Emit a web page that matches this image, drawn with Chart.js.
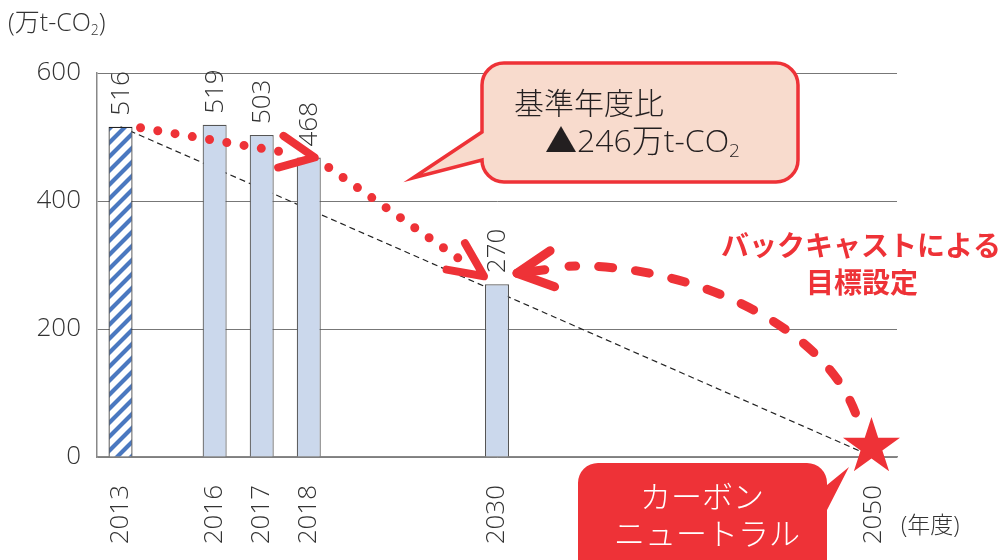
<!DOCTYPE html>
<html lang="ja">
<head>
<meta charset="utf-8">
<title>CO2排出量の推移</title>
<script src="https://cdn.jsdelivr.net/npm/chart.js@4.4.1/dist/chart.umd.min.js"></script>
<style>
  html, body { margin: 0; padding: 0; background: #fff; }
</style>
</head>
<body>
<canvas id="chart1" width="1003" height="560"></canvas>
<script>
// 年度 (空欄は間隔調整用)
const categories = ["2013", "", "2016", "2017", "2018", "", "", "", "2030", "", "", "", "", "", "", "", "2050"];
// 排出量 (万t-CO2)
const emissions = [516, null, 519, 503, 468, null, null, null, 270, null, null, null, null, null, null, null, null];
const target2050 = 0; // カーボンニュートラル
const yTicks = [0, 200, 400, 600];

const RED = "#ee3237";
const FONT = '"Open Sans", "Noto Sans CJK JP", sans-serif';
const JFONT = '"Noto Sans CJK JP", "Noto Sans", sans-serif';

var ctx1 = document.getElementById("chart1").getContext("2d");

// 2013年度の斜線パターン
function makeStripe() {
  const c = document.createElement("canvas");
  c.width = 14;
  c.height = 14;
  const g = c.getContext("2d");
  g.fillStyle = "#ffffff";
  g.fillRect(0, 0, 14, 14);
  g.strokeStyle = "#4a78c0";
  g.lineWidth = 4.2;
  g.beginPath();
  g.moveTo(-3, 17); g.lineTo(17, -3);
  g.moveTo(-3, 3); g.lineTo(3, -3);
  g.moveTo(11, 17); g.lineTo(17, 11);
  g.stroke();
  return ctx1.createPattern(c, "repeat");
}
const stripe = makeStripe();

// 2013年度から2050年度ゼロへの直線
const straightPath = categories.map((c, i) =>
  i === 0 ? emissions[0] : i === categories.length - 1 ? target2050 : null
);

function chevron(ctx, x, y, a, len, spread, w) {
  ctx.lineWidth = w;
  ctx.lineCap = "round";
  ctx.lineJoin = "round";
  ctx.beginPath();
  ctx.moveTo(x - len * Math.cos(a - spread), y - len * Math.sin(a - spread));
  ctx.lineTo(x, y);
  ctx.lineTo(x - len * Math.cos(a + spread), y - len * Math.sin(a + spread));
  ctx.stroke();
}

function dottedArrow(ctx, x1, y1, x2, y2) {
  const a = Math.atan2(y2 - y1, x2 - x1);
  const stop = Math.hypot(x2 - x1, y2 - y1) - 30;
  ctx.save();
  ctx.strokeStyle = RED;
  ctx.lineWidth = 9;
  ctx.lineCap = "round";
  ctx.setLineDash([0, 17.5]);
  ctx.beginPath();
  ctx.moveTo(x1, y1);
  ctx.lineTo(x1 + Math.cos(a) * stop, y1 + Math.sin(a) * stop);
  ctx.stroke();
  ctx.setLineDash([]);
  chevron(ctx, x2, y2, a, 38, (25 * Math.PI) / 180, 8);
  ctx.restore();
}

// 下付き文字つきのテキスト
function co2Text(ctx, parts, x, y, size) {
  let cx = x;
  parts.forEach((p) => {
    const s = p.sub ? Math.round(size * 0.58) : size;
    ctx.font = "300 " + s + "px " + FONT;
    ctx.fillText(p.t, cx, p.sub ? y + size * 0.28 : y);
    cx += ctx.measureText(p.t).width;
  });
}

function star(ctx, cx, cy, r) {
  ctx.beginPath();
  for (let i = 0; i < 10; i++) {
    const rr = i % 2 === 0 ? r : r * 0.382;
    const a = -Math.PI / 2 + (i * Math.PI) / 5;
    ctx.lineTo(cx + rr * Math.cos(a), cy + rr * Math.sin(a));
  }
  ctx.closePath();
  ctx.fill();
}

const annotations = {
  id: "annotations",
  afterDatasetsDraw(chart) {
    // 棒の上の数値
    const ctx = chart.ctx;
    const meta = chart.getDatasetMeta(0);
    ctx.save();
    ctx.fillStyle = "#333";
    ctx.font = "300 26px " + FONT;
    ctx.textAlign = "left";
    ctx.textBaseline = "middle";
    meta.data.forEach((bar, i) => {
      if (emissions[i] == null) return;
      ctx.save();
      ctx.translate(bar.x + 1, bar.y - 11);
      ctx.rotate(-Math.PI / 2);
      ctx.fillText(String(emissions[i]), 0, 0);
      ctx.restore();
    });
    ctx.restore();
  },
  afterDraw(chart) {
    const ctx = chart.ctx;
    const xs = chart.scales.x;
    const ys = chart.scales.y;
    const pt = (i, v) => ({ x: xs.getPixelForValue(i), y: ys.getPixelForValue(v) });
    const p2013 = pt(0, emissions[0]);
    const p2018 = pt(4, emissions[4]);
    const p2030 = pt(8, emissions[8]);
    const p2050 = pt(16, target2050);

    // 赤い点線の矢印
    dottedArrow(ctx, p2013.x + 20, p2013.y + 1, p2018.x + 6, p2018.y);
    dottedArrow(ctx, p2018.x + 20, p2018.y + 10, p2030.x - 13, p2030.y - 8);

    // バックキャストの矢印
    const s = { x: p2050.x - 2, y: p2050.y - 10 };
    const tip = { x: p2030.x + 20, y: p2030.y - 11 };
    ctx.save();
    ctx.strokeStyle = RED;
    ctx.fillStyle = RED;
    ctx.lineWidth = 9;
    ctx.lineCap = "round";
    ctx.setLineDash([14, 23]);
    ctx.beginPath();
    ctx.moveTo(s.x - 16, s.y - 34);
    ctx.bezierCurveTo(s.x - 51, s.y - 127, tip.x + 162, tip.y - 11, tip.x + 52, tip.y - 7);
    ctx.stroke();
    ctx.setLineDash([]);
    const a = Math.atan2(5, -40);
    chevron(ctx, tip.x, tip.y, a, 40, (27 * Math.PI) / 180, 9);
    ctx.beginPath();
    ctx.moveTo(tip.x, tip.y);
    ctx.lineTo(tip.x - 28 * Math.cos(a), tip.y - 28 * Math.sin(a));
    ctx.stroke();

    // 星
    star(ctx, s.x, s.y, 30);
    ctx.restore();

    // 吹き出し (基準年度比)
    ctx.save();
    const bx = 482, by = 63, bw = 316, bh = 119, r = 22;
    ctx.beginPath();
    ctx.moveTo(bx + r, by);
    ctx.lineTo(bx + bw - r, by);
    ctx.arcTo(bx + bw, by, bx + bw, by + r, r);
    ctx.lineTo(bx + bw, by + bh - r);
    ctx.arcTo(bx + bw, by + bh, bx + bw - r, by + bh, r);
    ctx.lineTo(bx + r, by + bh);
    ctx.arcTo(bx, by + bh, bx, by + bh - r, r);
    ctx.lineTo(413, 178);
    ctx.lineTo(bx, 132);
    ctx.lineTo(bx, by + r);
    ctx.arcTo(bx, by, bx + r, by, r);
    ctx.closePath();
    ctx.fillStyle = "#f8dbcd";
    ctx.fill();
    ctx.strokeStyle = RED;
    ctx.lineWidth = 3.5;
    ctx.lineJoin = "miter";
    ctx.stroke();
    ctx.fillStyle = "#231f20";
    ctx.textBaseline = "middle";
    ctx.textAlign = "left";
    ctx.font = "300 30px " + JFONT;
    ctx.fillText("基準年度比", 514, 103);
    co2Text(ctx, [{ t: "▲246万t-CO" }, { t: "2", sub: true }], 545, 143, 32);
    ctx.restore();

    // 吹き出し (カーボンニュートラル)
    ctx.save();
    const cx = 578, cy = 463, cw = 249, ch = 130, cr = 20;
    ctx.beginPath();
    ctx.moveTo(cx + cr, cy);
    ctx.lineTo(cx + cw - cr, cy);
    ctx.arcTo(cx + cw, cy, cx + cw, cy + cr, cr);
    ctx.lineTo(cx + cw, cy + 22);
    ctx.lineTo(849, 467);
    ctx.lineTo(cx + cw, cy + 47);
    ctx.lineTo(cx + cw, cy + ch - cr);
    ctx.arcTo(cx + cw, cy + ch, cx + cw - cr, cy + ch, cr);
    ctx.lineTo(cx + cr, cy + ch);
    ctx.arcTo(cx, cy + ch, cx, cy + ch - cr, cr);
    ctx.lineTo(cx, cy + cr);
    ctx.arcTo(cx, cy, cx + cr, cy, cr);
    ctx.closePath();
    ctx.fillStyle = RED;
    ctx.fill();
    ctx.fillStyle = "#ffffff";
    ctx.font = "300 31px " + JFONT;
    ctx.textBaseline = "middle";
    ctx.textAlign = "left";
    ctx.fillText("カーボン", 640, 496);
    ctx.fillText("ニュートラル", 614, 533);
    ctx.restore();

    // バックキャストによる目標設定
    ctx.save();
    ctx.fillStyle = RED;
    ctx.font = "bold 28px " + JFONT;
    ctx.textAlign = "center";
    ctx.textBaseline = "middle";
    ctx.fillText("バックキャストによる", 861, 245);
    ctx.fillText("目標設定", 862, 282);
    ctx.restore();

    // 軸の単位
    ctx.save();
    ctx.fillStyle = "#333";
    ctx.textBaseline = "middle";
    ctx.textAlign = "left";
    co2Text(ctx, [{ t: "(万t-CO" }, { t: "2", sub: true }, { t: ")" }], 8, 24, 25);
    ctx.font = "300 23px " + FONT;
    ctx.fillText("(年度)", xs.right + 4, 526);
    ctx.restore();
  },
};

var chart1 = new Chart(ctx1, {
  type: "bar",
  data: {
    labels: categories,
    datasets: [
      {
        label: "排出量",
        data: emissions,
        backgroundColor: emissions.map((v, i) => (i === 0 ? stripe : "#cbd8ec")),
        borderColor: emissions.map((v, i) => (i === 0 ? "#222" : "#555")),
        borderWidth: 1.2,
        barPercentage: 0.51,
        categoryPercentage: 1,
        order: 1,
      },
      {
        type: "line",
        label: "直線",
        data: straightPath,
        borderColor: "#222",
        borderWidth: 1.2,
        borderDash: [6, 4],
        pointRadius: 0,
        spanGaps: true,
        fill: false,
        order: 2,
      },
    ],
  },
  options: {
    responsive: false,
    animation: false,
    layout: { padding: { top: 73, right: 106, left: 0, bottom: 0 } },
    plugins: {
      legend: { display: false },
      tooltip: { enabled: false },
    },
    scales: {
      x: {
        grid: { display: false },
        border: { display: true, color: "#888", width: 1.5 },
        ticks: {
          autoSkip: false,
          minRotation: 90,
          maxRotation: 90,
          padding: 20,
          color: "#333",
          font: { family: FONT, size: 26, weight: 300 },
        },
        afterFit(scale) {
          scale.height = 103;
        },
      },
      y: {
        min: 0,
        max: 600,
        afterBuildTicks(scale) {
          scale.ticks = yTicks.map((v) => ({ value: v }));
        },
        ticks: {
          padding: 16,
          color: "#333",
          font: { family: FONT, size: 26, weight: 300 },
        },
        grid: { color: "#777", lineWidth: 1, drawTicks: false },
        border: { display: true, color: "#888", width: 1.5 },
        afterFit(scale) {
          scale.width = 97;
        },
      },
    },
  },
  plugins: [annotations],
});
</script>
</body>
</html>
